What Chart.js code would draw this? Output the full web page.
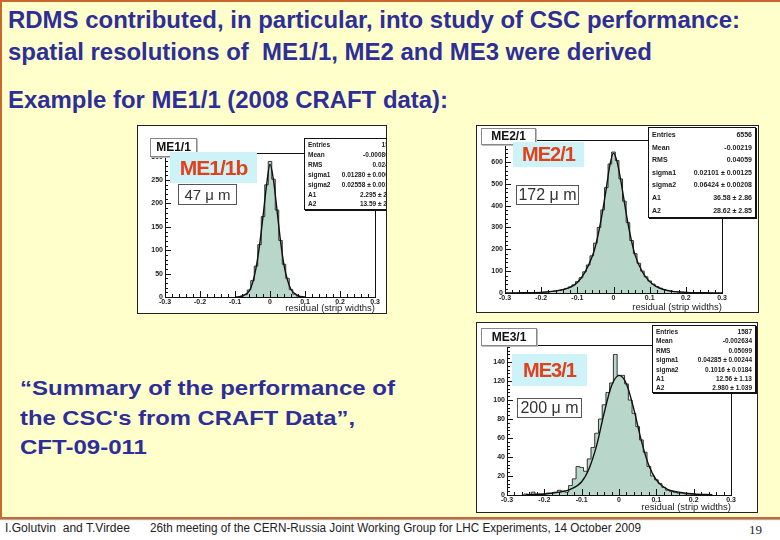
<!DOCTYPE html>
<html>
<head>
<meta charset="utf-8">
<script src="https://cdn.jsdelivr.net/npm/chart.js@4.4.1/dist/chart.umd.min.js"></script>
<style>
  body { margin: 0; background: #fff; font-family: "Liberation Sans", Arial, sans-serif; }
  #slide { position: relative; width: 780px; height: 540px; overflow: hidden; background: #fff; }
  #panel { position: absolute; left: 0; top: 0; width: 790px; height: 515px; background: #FFFFCC;
           border: 2px solid #C8682E; box-shadow: 0 1px 1px #aaa; }
  .t { position: absolute; white-space: pre; transform-origin: left center; }
  .head { font-family: "Liberation Sans", Arial, sans-serif; font-weight: bold;
          font-size: 24px; line-height: 28px; color: #2E2E98; }
  .sum { font-family: "Liberation Sans", Arial, sans-serif; font-weight: bold; font-size: 20px;
         line-height: 24px; color: #2E2E98; }
  .foot { font-family: "Liberation Sans", Arial, sans-serif; font-size: 12.5px;
          line-height: 14px; color: #222; }
  .plot { position: absolute; background: #fff; border: 1px solid #222; overflow: hidden; }
  .plot canvas { position: absolute; left: 0; top: 0; }
  .ttl { position: absolute; background: #fff; border: 1px solid #888; box-shadow: 1px 1px 0 #bbb;
         font: bold 12px "Liberation Sans", Arial, sans-serif; text-align: center; color: #111; }
  .red { position: absolute; background: #CDF3F8; color: #E2401A; text-align: center;
         font: bold 21px "Liberation Sans", Arial, sans-serif; letter-spacing: -1px; }
  .res { position: absolute; background: #fff; border: 1px solid #555; color: #333; text-align: center;
         font: 15px "Liberation Sans", Arial, sans-serif; }
  .stats { position: absolute; background: #fff; border: 1px solid #111; box-shadow: 1px 1px 0 #111;
           font: bold 6.5px "Liberation Sans", Arial, sans-serif; color: #222; box-sizing: border-box; padding: 1px 3px; }
  .stats div { display: flex; justify-content: space-between; }
</style>
</head>
<body>
<div id="slide">
  <div id="panel"></div>

  <div class="t head" style="left:8px;top:6px" data-w="732">RDMS contributed, in particular, into study of CSC performance:</div>
  <div class="t head" style="left:8px;top:38px" data-w="644">spatial resolutions of  ME1/1, ME2 and ME3 were derived</div>
  <div class="t head" style="left:8px;top:86px" data-w="440">Example for ME1/1 (2008 CRAFT data):</div>

  <div class="t sum" style="left:20px;top:376px" data-w="375">“Summary of the performance of</div>
  <div class="t sum" style="left:20px;top:406px" data-w="335">the CSC's from CRAFT Data”,</div>
  <div class="t sum" style="left:20px;top:435px" data-w="127">CFT-09-011</div>

  <!-- ME1/1 -->
  <div class="plot" style="left:137px;top:125px;width:248px;height:187px">
    <canvas id="me11" width="248" height="187"></canvas>
    <div class="stats" style="left:166px;top:12px;width:96px;height:72px;line-height:9.9px">
      <div><span>Entries</span><span>1593</span></div>
      <div><span>Mean</span><span>-0.0008016</span></div>
      <div><span>RMS</span><span>0.02452</span></div>
      <div><span>sigma1</span><span>0.01280 ± 0.00060</span></div>
      <div><span>sigma2</span><span>0.02558 ± 0.00142</span></div>
      <div><span>A1</span><span>2.295 ± 2.73</span></div>
      <div><span>A2</span><span>13.59 ± 2.73</span></div>
    </div>
    <div class="ttl" style="left:12px;top:12px;width:45px;height:17px;line-height:17px">ME1/1</div>
    <div class="red" style="left:32px;top:26px;width:87px;height:31px;line-height:31px">ME1/1b</div>
    <div class="res" style="left:40px;top:58px;width:57px;height:19px;line-height:19px">47 μ m</div>
  </div>

  <!-- ME2/1 -->
  <div class="plot" style="left:476px;top:125px;width:281px;height:186px">
    <canvas id="me21" width="281" height="186"></canvas>
    <div class="stats" style="left:171px;top:1px;width:108px;height:91px;line-height:12.6px;font-size:7px">
      <div><span>Entries</span><span>6556</span></div>
      <div><span>Mean</span><span>-0.00219</span></div>
      <div><span>RMS</span><span>0.04059</span></div>
      <div><span>sigma1</span><span>0.02101 ± 0.00125</span></div>
      <div><span>sigma2</span><span>0.06424 ± 0.00208</span></div>
      <div><span>A1</span><span>36.58 ± 2.86</span></div>
      <div><span>A2</span><span>28.62 ± 2.85</span></div>
    </div>
    <div class="ttl" style="left:4px;top:2px;width:53px;height:15px;line-height:15px">ME2/1</div>
    <div class="red" style="left:36px;top:16px;width:71px;height:25px;line-height:25px;font-size:20px">ME2/1</div>
    <div class="res" style="left:39px;top:59px;width:61px;height:18px;line-height:18px;font-size:16px">172 μ m</div>
  </div>

  <!-- ME3/1 -->
  <div class="plot" style="left:476px;top:322px;width:280px;height:189px">
    <canvas id="me31" width="280" height="189"></canvas>
    <div class="stats" style="left:175px;top:2px;width:104px;height:68px;line-height:9.4px;font-size:6.5px">
      <div><span>Entries</span><span>1587</span></div>
      <div><span>Mean</span><span>-0.002634</span></div>
      <div><span>RMS</span><span>0.05099</span></div>
      <div><span>sigma1</span><span>0.04285 ± 0.00244</span></div>
      <div><span>sigma2</span><span>0.1016 ± 0.0184</span></div>
      <div><span>A1</span><span>12.56 ± 1.13</span></div>
      <div><span>A2</span><span>2.980 ± 1.039</span></div>
    </div>
    <div class="ttl" style="left:4px;top:5px;width:54px;height:16px;line-height:16px">ME3/1</div>
    <div class="red" style="left:35px;top:31px;width:75px;height:32px;line-height:32px;font-size:20px">ME3/1</div>
    <div class="res" style="left:40px;top:75px;width:63px;height:18px;line-height:18px;font-size:16px">200 μ m</div>
  </div>

  <div class="t foot" style="left:5px;top:521px" data-w="125">I.Golutvin  and T.Virdee</div>
  <div class="t foot" style="left:150px;top:521px" data-w="491">26th meeting of the CERN-Russia Joint Working Group for LHC Experiments, 14 October 2009</div>
  <div class="t" style="left:749px;top:522px;font:13px 'Liberation Serif', serif;color:#222">19</div>
</div>

<script>
// ME1/1 residuals (bin centres, counts) and fit
const me11Bins = [-0.09, -0.08, -0.07, -0.06, -0.05, -0.04, -0.03, -0.02, -0.01, 0, 0.01, 0.02, 0.03, 0.04, 0.05, 0.06, 0.07, 0.08, 0.09];
const me11Counts = [0, 2, 5, 15, 35, 66, 112, 172, 240, 290, 252, 186, 121, 70, 40, 16, 6, 2, 0];
const me11FitX = [-0.1, -0.08, -0.06, -0.05, -0.04, -0.03, -0.02, -0.01, 0, 0.01, 0.02, 0.03, 0.04, 0.05, 0.06, 0.08, 0.1];
const me11FitY = [0, 2, 12, 30, 62, 110, 172, 238, 284, 250, 186, 120, 68, 36, 16, 3, 0];

// ME2/1
const me21Bins = [-0.26, -0.25, -0.24, -0.23, -0.22, -0.21, -0.2, -0.19, -0.18, -0.17, -0.16, -0.15, -0.14, -0.13, -0.12, -0.11, -0.1,
  -0.09, -0.08, -0.07, -0.06, -0.05, -0.04, -0.03, -0.02, -0.01, 0, 0.01, 0.02, 0.03, 0.04, 0.05, 0.06, 0.07, 0.08, 0.09,
  0.1, 0.11, 0.12, 0.13, 0.14, 0.15, 0.16, 0.17, 0.18, 0.19, 0.2, 0.21, 0.22, 0.23, 0.24, 0.25, 0.26];
const me21Counts = [0, 1, 1, 2, 2, 3, 3, 4, 5, 7, 9, 12, 16, 21, 28, 37, 52,
  70, 97, 128, 170, 228, 300, 380, 482, 590, 645, 606, 522, 420, 322, 240, 180, 136, 100, 74,
  55, 41, 30, 22, 16, 12, 9, 7, 5, 4, 3, 2, 2, 1, 1, 1, 0];
const me21FitX = [-0.3, -0.25, -0.2, -0.15, -0.12, -0.1, -0.08, -0.06, -0.05, -0.04, -0.03, -0.02, -0.01, 0,
  0.01, 0.02, 0.03, 0.04, 0.05, 0.06, 0.08, 0.1, 0.12, 0.15, 0.2, 0.25, 0.3];
const me21FitY = [0, 1, 3, 12, 26, 48, 92, 162, 214, 287, 376, 478, 586, 640,
  600, 516, 416, 318, 236, 172, 96, 52, 28, 11, 3, 1, 0];

// ME3/1
const me31Bins = [-0.26, -0.25, -0.24, -0.23, -0.22, -0.21, -0.2, -0.19, -0.18, -0.17, -0.16, -0.15, -0.14, -0.13, -0.12, -0.11, -0.1,
  -0.09, -0.08, -0.07, -0.06, -0.05, -0.04, -0.03, -0.02, -0.01, 0, 0.01, 0.02, 0.03, 0.04, 0.05, 0.06, 0.07, 0.08, 0.09,
  0.1, 0.11, 0.12, 0.13, 0.14, 0.15, 0.16, 0.17, 0.18, 0.19, 0.2, 0.21];
const me31Counts = [0, 1, 0, 3, 1, 1, 1, 2, 2, 3, 5, 4, 3, 10, 17, 30, 29,
  25, 38, 50, 65, 80, 95, 108, 118, 148, 126, 126, 117, 100, 86, 72, 58, 45, 30, 20,
  16, 12, 8, 5, 4, 3, 2, 2, 1, 1, 1, 0];
const me31FitX = [-0.25, -0.2, -0.16, -0.13, -0.1, -0.08, -0.06, -0.04, -0.02, 0, 0.02, 0.04, 0.06, 0.08, 0.1, 0.13, 0.16, 0.2, 0.25];
const me31FitY = [0.3, 1, 3, 6, 14, 28, 52, 86, 115, 126, 117, 90, 57, 31, 16, 6, 3, 1, 0.3];

const xTicks = ["-0.3", "-0.2", "-0.1", "0", "0.1", "0.2", "0.3"];

// ROOT-like frame with inward ticks
const rootFrame = {
  id: "rootFrame",
  afterDatasetsDraw(chart) {
    const { ctx, chartArea: a, scales } = chart;
    const x = scales.x;
    const y = scales.y;
    ctx.save();
    ctx.strokeStyle = "#111";
    ctx.lineWidth = 1;
    ctx.strokeRect(Math.round(a.left) + 0.5, Math.round(a.top) + 0.5, Math.round(a.right - a.left), Math.round(a.bottom - a.top));
    ctx.beginPath();
    const xs = x.options.ticks.stepSize;
    for (let v = x.min, i = 0; v <= x.max + 1e-9; v += xs / 5, i++) {
      const px = Math.round(x.getPixelForValue(v)) + 0.5;
      ctx.moveTo(px, a.bottom);
      ctx.lineTo(px, a.bottom - (i % 5 === 0 ? 6 : 3));
    }
    const ys = y.options.ticks.stepSize;
    for (let v = 0, i = 0; v <= y.max + 1e-9; v += ys / 5, i++) {
      const py = Math.round(y.getPixelForValue(v)) + 0.5;
      ctx.moveTo(a.left, py);
      ctx.lineTo(a.left + (i % 5 === 0 ? 6 : 3), py);
    }
    ctx.stroke();
    ctx.restore();
  },
};

function makePlot(id, bins, counts, fitX, fitY, yMax, yStep, pad, yWidth, xHeight) {
  const tickFont = { family: "Liberation Sans", size: 7, weight: "bold" };
  new Chart(document.getElementById(id), {
    type: "line",
    data: {
      datasets: [
        {
          data: fitX.map((v, i) => ({ x: v, y: fitY[i] })),
          borderColor: "#111",
          borderWidth: 1.4,
          pointRadius: 0,
          fill: false,
          cubicInterpolationMode: "monotone",
          order: 0,
        },
        {
          data: bins.map((v, i) => ({ x: v, y: counts[i] })),
          stepped: "middle",
          borderColor: "#333",
          borderWidth: 1,
          backgroundColor: "#B8D6CA",
          pointRadius: 0,
          fill: "origin",
          order: 1,
        },
      ],
    },
    options: {
      responsive: false,
      animation: false,
      devicePixelRatio: 1,
      layout: { padding: pad },
      plugins: { legend: { display: false }, tooltip: { enabled: false } },
      scales: {
        x: {
          type: "linear",
          min: -0.3,
          max: 0.3,
          afterFit: (s) => { s.height = xHeight; },
          grid: { display: false, drawTicks: false },
          border: { display: false },
          ticks: {
            stepSize: 0.1,
            padding: 1,
            color: "#222",
            font: tickFont,
            maxRotation: 0,
            callback: (v) => xTicks[Math.round(v * 10) + 3],
          },
          title: {
            display: true,
            text: "residual (strip widths)",
            align: "end",
            color: "#222",
            padding: 0,
            font: { family: "Liberation Sans", size: 9.5, lineHeight: 1 },
          },
        },
        y: {
          min: 0,
          max: yMax,
          afterFit: (s) => { s.width = yWidth; },
          grid: { display: false, drawTicks: false },
          border: { display: false },
          ticks: { stepSize: yStep, includeBounds: false, padding: 2, color: "#222", font: tickFont },
        },
      },
    },
    plugins: [rootFrame],
  });
}

makePlot("me11", me11Bins, me11Counts, me11FitX, me11FitY, 308, 50, { top: 27, right: 11, left: 0, bottom: 0 }, 27, 16);
makePlot("me21", me21Bins, me21Counts, me21FitX, me21FitY, 700, 100, { top: 14, right: 36, left: 0, bottom: 0 }, 28, 19);
makePlot("me31", me31Bins, me31Counts, me31FitX, me31FitY, 158, 20, { top: 22, right: 26, left: 0, bottom: 0 }, 30, 17);

// stretch the text lines to the widths they have on the slide
document.fonts.ready.then(() => {
  document.querySelectorAll("[data-w]").forEach((el) => {
    const w = el.getBoundingClientRect().width;
    el.style.transform = "scaleX(" + el.dataset.w / w + ")";
  });
});
</script>
</body>
</html>
